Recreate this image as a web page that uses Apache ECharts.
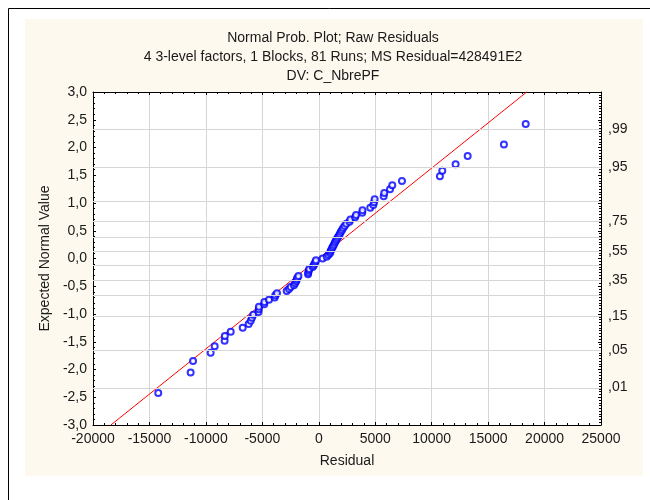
<!DOCTYPE html>
<html>
<head>
<meta charset="utf-8">
<script src="https://cdn.jsdelivr.net/npm/echarts@6/dist/echarts.min.js"></script>
<style>html,body{margin:0;padding:0;background:#fff}#chart{width:650px;height:500px}</style>
</head>
<body>
<div id="chart"></div>
<script>
const titleLines = ['Normal Prob. Plot; Raw Residuals', '4 3-level factors, 1 Blocks, 81 Runs; MS Residual=428491E2', 'DV: C_NbrePF'];
const xTicks = [-20000, -15000, -10000, -5000, 0, 5000, 10000, 15000, 20000, 25000];
const residuals = [
  -14220, -11350, -11140, -9580, -9220, -8340, -8320, -7800, -6740, -6210,
  -6030, -5920, -5800, -5340, -5320, -5300, -4830, -4820, -4410, -3900,
  -3850, -3700, -2840, -2640, -2490, -2200, -2100, -2000, -1950, -1900,
  -1800, -950, -930, -880, -840, -540, -450, -380, -300, -250,
  340, 700, 850, 990, 1040, 1100, 1180, 1260, 1340, 1420,
  1500, 1580, 1680, 1780, 1870, 1960, 2060, 2160, 2290, 2440,
  2720, 2800, 3220, 3300, 3850, 3870, 4560, 4830, 4900, 4950,
  5750, 5800, 6310, 6510, 7370, 10730, 10940, 12120, 13190, 16400,
  18330
];
const expectedNormal = [
  -2.423, -2.054, -1.848, -1.700, -1.581, -1.481, -1.395, -1.318, -1.247, -1.182,
  -1.122, -1.066, -1.013, -0.963, -0.915, -0.869, -0.825, -0.783, -0.742, -0.702,
  -0.663, -0.624, -0.587, -0.551, -0.515, -0.481, -0.446, -0.412, -0.379, -0.346,
  -0.314, -0.282, -0.250, -0.218, -0.187, -0.155, -0.124, -0.093, -0.062, -0.031,
  0.000, 0.031, 0.062, 0.093, 0.124, 0.155, 0.187, 0.218, 0.250, 0.282,
  0.314, 0.346, 0.379, 0.412, 0.446, 0.481, 0.515, 0.551, 0.587, 0.624,
  0.663, 0.702, 0.742, 0.783, 0.825, 0.869, 0.915, 0.963, 1.013, 1.066,
  1.122, 1.182, 1.247, 1.318, 1.395, 1.481, 1.581, 1.700, 1.848, 2.054,
  2.423
];
const fitX = [-18420, 18420];
const fitY = [-3, 3];
const probGridZ = [-2.326, -1.645, -1.036, -0.674, -0.385, -0.126, 0.126, 0.385, 0.674, 1.036, 1.645, 2.326];
const probLabelZ = [-2.326, -1.645, -1.036, -0.385, 0.126, 0.674, 1.645, 2.326];
const probLabelText = [',01', ',05', ',15', ',35', ',55', ',75', ',95', ',99'];

const FONT = 'Liberation Sans, Arial, sans-serif';
const FS = 14;
const TXT = '#1a1a1a';
const GRIDC = '#d6d6d6';

const chart = echarts.init(document.getElementById('chart'), null, {renderer: 'canvas'});
const tickBase = {show: true, inside: true, length: 3, lineStyle: {color: '#000', width: 1}};
const minorBase = (n) => ({show: true, splitNumber: n, length: 2, lineStyle: {color: '#000', width: 1}});

chart.setOption({
  backgroundColor: '#fff',
  animation: false,
  graphic: [
    {type: 'rect', z: -10, shape: {x: 8.5, y: 8.5, width: 700, height: 700}, style: {fill: '#fff', stroke: '#000', lineWidth: 1}},
    {type: 'rect', z: -9, shape: {x: 25, y: 19, width: 618, height: 457}, style: {fill: '#fdf9ee'}}
  ],
  title: {
    text: titleLines.join('\n'),
    left: 333, top: 29, padding: 0, textAlign: 'center',
    textStyle: {fontFamily: FONT, fontSize: FS, fontWeight: 'normal', color: TXT, lineHeight: 19}
  },
  grid: {left: 93, right: 49, top: 92, bottom: 75, show: true, backgroundColor: '#fff', borderWidth: 0},
  xAxis: [
    {
      type: 'value', position: 'bottom', min: -20000, max: 25000, interval: 5000,
      name: 'Residual', nameLocation: 'middle', nameGap: 29,
      nameTextStyle: {fontFamily: FONT, fontSize: FS, color: TXT},
      axisLine: {show: true, onZero: false, lineStyle: {color: '#000', width: 1}},
      axisTick: tickBase, minorTick: minorBase(5),
      axisLabel: {fontFamily: FONT, fontSize: FS, color: TXT, margin: 7,
        formatter: (v) => xTicks.includes(v) ? String(v) : ''},
      splitLine: {show: true, lineStyle: {color: GRIDC, width: 1}}
    },
    {
      type: 'value', position: 'top', min: -20000, max: 25000, interval: 5000,
      axisLine: {show: true, onZero: false, lineStyle: {color: '#000', width: 1}},
      axisTick: tickBase, minorTick: minorBase(5),
      axisLabel: {show: false}, splitLine: {show: false}
    }
  ],
  yAxis: [
    {
      type: 'value', position: 'left', min: -3, max: 3, interval: 0.5,
      name: 'Expected Normal Value', nameLocation: 'middle', nameGap: 38,
      nameTextStyle: {fontFamily: FONT, fontSize: FS, color: TXT},
      axisLine: {show: true, onZero: false, lineStyle: {color: '#000', width: 1}},
      axisTick: tickBase, minorTick: minorBase(5),
      axisLabel: {fontFamily: FONT, fontSize: FS, color: TXT, margin: 6,
        formatter: (v) => v.toFixed(1).replace('.', ',')},
      splitLine: {show: false}
    },
    {
      type: 'value', position: 'right', min: -3, max: 3, interval: 0.5,
      axisLine: {show: true, onZero: false, lineStyle: {color: '#000', width: 1}},
      axisTick: tickBase, minorTick: minorBase(10),
      axisLabel: {fontFamily: FONT, fontSize: FS, color: TXT, margin: 7,
        customValues: probLabelZ,
        formatter: (v) => {
          let best = 0;
          probLabelZ.forEach((z, i) => { if (Math.abs(z - v) < Math.abs(probLabelZ[best] - v)) best = i; });
          return probLabelText[best];
        }},
      splitLine: {show: false}
    }
  ],
  series: [
    {
      type: 'line', data: [], z: 1, silent: true,
      markLine: {
        silent: true, symbol: 'none', animation: false, label: {show: false},
        lineStyle: {color: GRIDC, width: 1, type: 'solid'},
        data: probGridZ.map(z => ({yAxis: z}))
      }
    },
    {
      type: 'line', z: 3, silent: true, symbol: 'none',
      data: fitX.map((x, i) => [x, fitY[i]]),
      lineStyle: {color: '#ff0000', width: 1}
    },
    {
      type: 'scatter', z: 4, symbol: 'circle', symbolSize: 6,
      data: residuals.map((x, i) => [x, expectedNormal[i]]),
      itemStyle: {color: '#ffffff', borderColor: '#0000ff', borderWidth: 2}
    }
  ]
});
</script>
</body>
</html>
